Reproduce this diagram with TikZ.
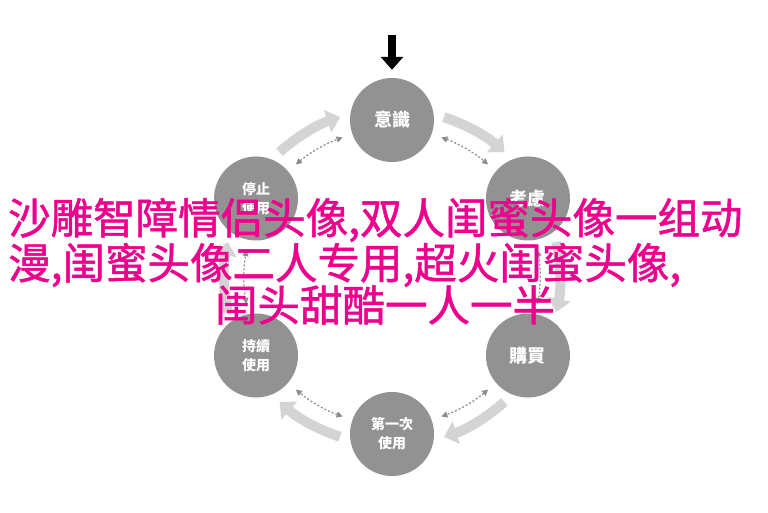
\documentclass[tikz,border=0pt]{standalone}
\usepackage{fontspec}
\setmainfont{Noto Sans CJK TC}
\newfontfamily\cjksc[FakeBold=1.2]{Noto Sans CJK SC}
\usepackage{xcolor}
\usetikzlibrary{arrows.meta,positioning,calc}
\definecolor{stagegray}{RGB}{146,146,146}
\definecolor{flowgray}{RGB}{212,212,212}
\definecolor{linkgray}{RGB}{140,140,140}

\begin{document}
\begin{tikzpicture}[x=1pt, y=1pt]
  % Purchase Cycle Diagram
  \tikzstyle{stage} = [circle, fill=stagegray, minimum size=84pt, inner sep=0pt, text=white, font=\bfseries\fontsize{14}{19}\selectfont, align=center]
  \tikzstyle{flow} = [line width=10pt, color=flowgray, -{Triangle[length=13pt, width=23pt]}]
  \tikzstyle{link} = [line width=1.2pt, dash pattern=on 2pt off 2pt, color=linkgray, {Triangle[length=6pt, width=6pt]}-{Triangle[length=6pt, width=6pt]}]
  \tikzstyle{entry arrow} = [line width=8pt, color=black, -{Triangle[length=13pt, width=22pt]}]
  \tikzstyle{caption} = [text=magenta, font=\cjksc\fontsize{42.5}{42}\selectfont, inner sep=0pt]

  \useasboundingbox[fill=white] (0,0) rectangle (768,512);
  \coordinate (hub) at (392,235);
  \coordinate (entry) at (392,477);

  % Stages
  \node[stage, font=\bfseries\fontsize{18}{20}\selectfont] (aware) at ($(hub)+(90:157)$) {意識};
  \node[stage] (stop) at ($(hub)+(150:157)$) {停止\\使用};
  \node[stage, font=\bfseries\fontsize{18}{20}\selectfont] (think) at ($(hub)+(30:157)$) {考慮};
  \node[stage] (keep) at ($(hub)+(210:157)$) {持續\\使用};
  \node[stage, font=\bfseries\fontsize{18}{20}\selectfont] (buy) at ($(hub)+(330:157)$) {購買};
  \node[stage] (first) at ($(hub)+(270:157)$) {第一次\\使用};

  % Entry arrow
  \draw[entry arrow, shorten >=8pt] (entry) -- (aware.north);

  % Cycle arrows
  \foreach \m in {120,60,0,-60,-120,-180} {
    \draw[flow] (hub) ++(\m+12:168) arc[start angle=\m+12, end angle=\m-12, radius=168];
    \draw[link] (hub) ++(\m+10.5:148) arc[start angle=\m+10.5, end angle=\m-10.5, radius=148];
  }

  % Overlay caption
  \node[caption, anchor=west] (line1) at (8,292) {沙雕智障情侣头像,双人闺蜜头像一组动};
  \node[caption, anchor=west] (line2) at (8,247) {漫,闺蜜头像二人专用,超火闺蜜头像,};
  \node[caption] (line3) at (385,207) {闺头甜酷一人一半};

\end{tikzpicture}
\end{document}
